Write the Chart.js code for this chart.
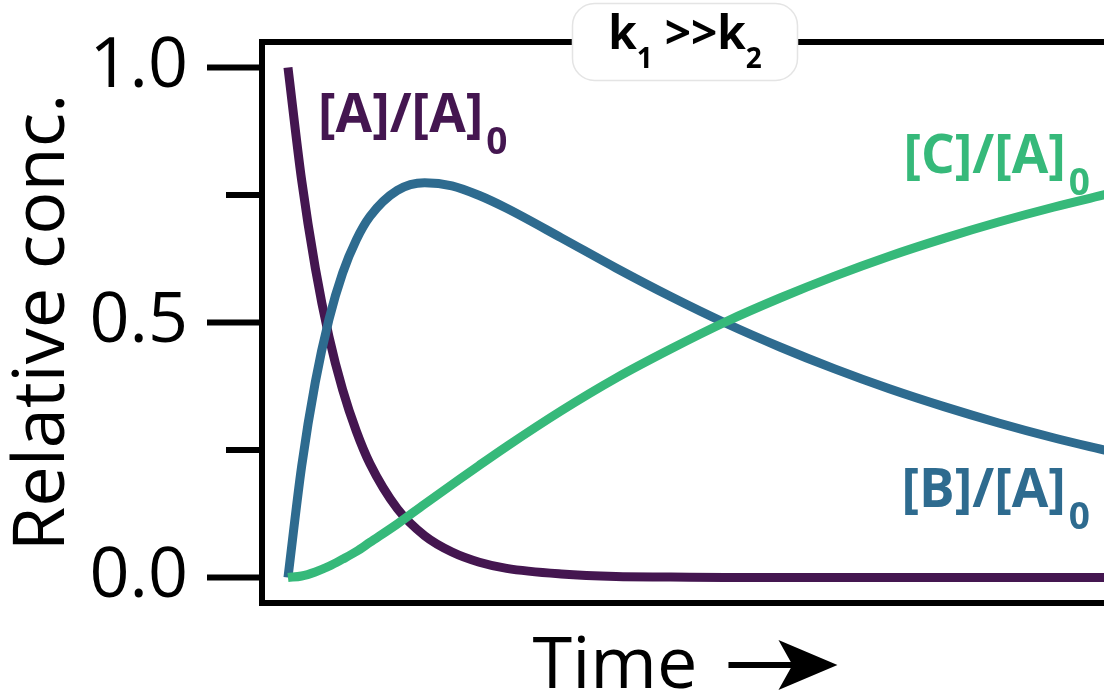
<!DOCTYPE html>
<html>
<head>
<meta charset="utf-8">
<script src="https://cdn.jsdelivr.net/npm/chart.js@4.4.0/dist/chart.umd.min.js"></script>
<style>
  html, body { margin: 0; padding: 0; background: #fff; overflow: hidden; }
  #wrap { width: 1112px; height: 692px; }
</style>
</head>
<body>
<div id="wrap"><canvas id="chart_kinetics" width="1112" height="692"></canvas></div>
<script>
// values
const times = [0, 0.25, 0.5, 0.75, 1, 1.25, 1.5, 2, 2.5, 3, 3.5, 4, 5, 6, 7, 8, 9, 10, 11, 12, 13, 14, 15];
const concA = [1, 0.779, 0.607, 0.472, 0.368, 0.287, 0.223, 0.135, 0.082, 0.050, 0.030, 0.018, 0.007, 0.002, 0.001, 0, 0, 0, 0, 0, 0, 0, 0];
const concB = [0, 0.218, 0.383, 0.506, 0.597, 0.662, 0.708, 0.759, 0.774, 0.768, 0.749, 0.724, 0.666, 0.607, 0.551, 0.499, 0.452, 0.409, 0.370, 0.335, 0.303, 0.274, 0.248];
const concC = [0, 0.003, 0.011, 0.022, 0.036, 0.051, 0.069, 0.105, 0.144, 0.182, 0.220, 0.257, 0.327, 0.391, 0.448, 0.501, 0.548, 0.591, 0.630, 0.665, 0.697, 0.726, 0.752];

const yTickValues = [0, 0.25, 0.5, 0.75, 1.0];
const yTickLabels = ['0.0', '', '0.5', '', '1.0'];

const seriesNames = ['[A]/[A]', '[B]/[A]', '[C]/[A]'];
const seriesColors = ['#441650', '#2e6b8f', '#36b97a'];

const FONT = "'Open Sans', sans-serif";

function toPoints(values) {
    return times.map((t, i) => ({ x: t, y: values[i] }));
}

// "[X]/[A]" followed by a subscript 0
function drawSpeciesLabel(ctx, text, color, px, py, alignRight) {
    ctx.font = 'bold 53px ' + FONT;
    const w1 = ctx.measureText(text).width;
    ctx.font = 'bold 37px ' + FONT;
    const w2 = ctx.measureText('0').width;
    let left = alignRight ? px - (w1 + 3 + w2) : px;
    ctx.fillStyle = color;
    ctx.textAlign = 'left';
    ctx.textBaseline = 'alphabetic';
    ctx.font = 'bold 53px ' + FONT;
    ctx.fillText(text, left, py);
    ctx.font = 'bold 37px ' + FONT;
    ctx.fillText('0', left + w1 + 3, py + 22);
}

const decorations = {
    id: 'decorations',
    afterDatasetsDraw(chart) {
        const { ctx, chartArea: a, scales: { x, y } } = chart;
        ctx.save();

        // frame and left ticks
        ctx.strokeStyle = '#000';
        ctx.lineWidth = 6;
        ctx.strokeRect(a.left, a.top, a.right - a.left, a.bottom - a.top);
        yTickValues.forEach((v, i) => {
            const py = y.getPixelForValue(v);
            const len = yTickLabels[i] ? 55 : 36;
            ctx.beginPath();
            ctx.moveTo(a.left - len, py);
            ctx.lineTo(a.left, py);
            ctx.stroke();
        });

        // species labels
        drawSpeciesLabel(ctx, seriesNames[0], seriesColors[0], x.getPixelForValue(0.55), y.getPixelForValue(0.873), false);
        drawSpeciesLabel(ctx, seriesNames[2], seriesColors[2], x.getPixelForValue(14.67), y.getPixelForValue(0.793), true);
        drawSpeciesLabel(ctx, seriesNames[1], seriesColors[1], x.getPixelForValue(14.67), y.getPixelForValue(0.139), true);

        // title box "k1 >>k2"
        const cx = (a.left + a.right) / 2;
        const bw = 225, bh = 77;
        ctx.beginPath();
        ctx.roundRect(cx - bw / 2, a.top - bh / 2, bw, bh, 22);
        ctx.fillStyle = '#fff';
        ctx.fill();
        ctx.strokeStyle = '#e4e4e4';
        ctx.lineWidth = 1.5;
        ctx.stroke();

        const parts = [
            { t: 'k', size: 46, dy: 0 },
            { t: '1', size: 28, dy: 19 },
            { t: ' >>k', size: 46, dy: 0 },
            { t: '2', size: 28, dy: 19 }
        ];
        let total = 0;
        parts.forEach(p => {
            ctx.font = 'bold ' + p.size + 'px ' + FONT;
            p.w = ctx.measureText(p.t).width;
            total += p.w;
        });
        let tx = cx - total / 2;
        const base = a.top + 7;
        ctx.fillStyle = '#000';
        ctx.textAlign = 'left';
        ctx.textBaseline = 'alphabetic';
        parts.forEach(p => {
            ctx.font = 'bold ' + p.size + 'px ' + FONT;
            ctx.fillText(p.t, tx, base + p.dy);
            tx += p.w;
        });

        // x title "Time" with arrow
        ctx.font = '72px ' + FONT;
        const tw = ctx.measureText('Time').width;
        const gap = 31, arrowLen = 109;
        let sx = cx - (tw + gap + arrowLen) / 2;
        const baseY = a.bottom + 85;
        ctx.fillText('Time', sx, baseY);
        const ax0 = sx + tw + gap;
        const ay = baseY - 23;
        const tip = ax0 + arrowLen;
        ctx.lineWidth = 6;
        ctx.strokeStyle = '#000';
        ctx.beginPath();
        ctx.moveTo(ax0, ay);
        ctx.lineTo(tip - 40, ay);
        ctx.stroke();
        ctx.beginPath();
        ctx.moveTo(tip, ay);
        ctx.lineTo(tip - 59, ay - 25);
        ctx.lineTo(tip - 45, ay);
        ctx.lineTo(tip - 59, ay + 25);
        ctx.closePath();
        ctx.fill();

        ctx.restore();
    }
};

function lineSet(idx, values, order) {
    return {
        label: seriesNames[idx],
        data: toPoints(values),
        borderColor: seriesColors[idx],
        backgroundColor: seriesColors[idx],
        borderWidth: 9,
        pointRadius: 0,
        cubicInterpolationMode: 'monotone',
        fill: false,
        order: order
    };
}

new Chart(document.getElementById('chart_kinetics'), {
    type: 'line',
    data: {
        datasets: [
            lineSet(0, concA, 3),
            lineSet(1, concB, 2),
            lineSet(2, concC, 1)
        ]
    },
    options: {
        responsive: false,
        animation: false,
        layout: { padding: { top: 42, right: 4, bottom: 89, left: 0 } },
        plugins: {
            legend: { display: false },
            tooltip: { enabled: false }
        },
        scales: {
            x: { type: 'linear', display: false, min: -0.475, max: 15 },
            y: {
                min: -0.05,
                max: 1.05,
                afterFit(scale) {
                    scale.width = 262;
                    scale.paddingTop = 0;
                    scale.paddingBottom = 0;
                },
                afterBuildTicks(scale) { scale.ticks = yTickValues.map(v => ({ value: v })); },
                grid: { display: false, drawTicks: false },
                border: { display: false },
                ticks: {
                    autoSkip: false,
                    padding: 74,
                    color: '#000',
                    font: { family: FONT, size: 70 },
                    callback: (value, index) => yTickLabels[index]
                },
                title: {
                    display: true,
                    text: 'Relative conc.',
                    color: '#000',
                    font: { family: FONT, size: 72, lineHeight: 1.2 },
                    padding: { top: 0, bottom: 0 }
                }
            }
        }
    },
    plugins: [decorations]
});
</script>
</body>
</html>
